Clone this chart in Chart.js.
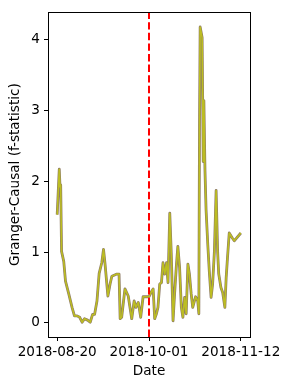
<!DOCTYPE html>
<html>
<head>
<meta charset="utf-8">
<script src="https://cdn.jsdelivr.net/npm/chart.js@4.4.1/dist/chart.umd.min.js"></script>
<style>
  html, body { margin: 0; padding: 0; background: #fff; }
  #wrap { width: 291px; height: 390px; }
</style>
</head>
<body>
<div id="wrap"><canvas id="c" width="291" height="390"></canvas></div>
<script>
// Days since 2018-08-20 for each observation
const dayOffsets = [0,0.95,1.3,1.6,2.0,3.0,3.8,5.3,6.8,7.9,9.1,10.3,11.4,12.5,13.9,15.1,16.2,17.1,18.2,19.2,20.4,21.2,21.9,23.2,24.2,25.0,27.3,28.3,28.8,29.5,31.0,32.5,34.1,35.2,36.0,37.1,38.2,39.3,42.0,43.1,43.9,44.6,45.4,46.1,46.9,47.7,48.4,49.2,50.0,50.7,51.5,52.2,53.0,53.7,54.5,55.2,56.0,56.8,57.5,58.3,59.0,59.8,60.5,61.3,62.0,63.3,64.3,64.8,65.1,65.4,66.3,66.8,67.1,67.6,68.1,68.9,69.6,70.4,71.1,71.9,72.7,73.4,73.9,74.9,75.7,76.7,77.3,77.9,78.7,80.1,81.0,84.0];
// Granger-causal f-statistic values
const fStat = [1.53,2.17,1.92,1.95,1.01,0.87,0.59,0.41,0.22,0.10,0.10,0.08,0.01,0.06,0.04,0.01,0.12,0.12,0.31,0.70,0.85,1.04,0.83,0.38,0.55,0.66,0.69,0.69,0.06,0.08,0.48,0.38,0.06,0.31,0.22,0.29,0.08,0.37,0.37,0.44,0.48,0.06,0.13,0.22,0.55,0.57,0.85,0.69,0.85,0.57,1.55,0.97,0.03,0.41,0.80,1.08,0.78,0.22,0.08,0.36,0.13,0.83,0.69,0.41,0.22,0.37,0.31,0.13,2.77,4.18,4.03,2.28,3.14,2.16,1.60,1.10,0.72,0.36,0.55,1.00,1.87,1.00,0.69,0.50,0.43,0.22,0.64,0.92,1.27,1.20,1.16,1.27];
// Event date (2018-10-01) as days since 2018-08-20
const eventDay = 42;
// Tick positions and labels
const xTickDays = [0, 42, 84];
const xTickLabels = ['2018-08-20', '2018-10-01', '2018-11-12'];
const yTicks = [0, 1, 2, 3, 4];

// Axis limits with matplotlib-like 5% margins
const xSpan = Math.max(...dayOffsets) - Math.min(...dayOffsets);
const xMin = Math.min(...dayOffsets) - 0.05 * xSpan;
const xMax = Math.max(...dayOffsets) + 0.05 * xSpan;
const ySpan = Math.max(...fStat) - Math.min(...fStat);
const yMin = Math.min(...fStat) - 0.05 * ySpan;
const yMax = Math.max(...fStat) + 0.05 * ySpan;

const points = dayOffsets.map((d, i) => ({ x: d, y: fStat[i] }));
const eventLine = [{ x: eventDay, y: yMin }, { x: eventDay, y: yMax }];

Chart.defaults.color = '#000';
Chart.defaults.font.family = "'DejaVu Sans', sans-serif";
Chart.defaults.font.size = 13.6;

const framePlugin = {
  id: 'frame',
  afterDraw(chart) {
    const { ctx, chartArea: a } = chart;
    ctx.save();
    ctx.strokeStyle = '#000';
    ctx.lineWidth = 1;
    ctx.strokeRect(Math.round(a.left) + 0.5, Math.round(a.top) + 0.5,
                   Math.round(a.right - a.left), Math.round(a.bottom - a.top));
    ctx.restore();
  }
};

new Chart(document.getElementById('c'), {
  type: 'line',
  data: {
    datasets: [
      { data: eventLine, borderColor: '#ff0000', borderWidth: 2, borderDash: [7.4, 3.2],
        pointRadius: 0, order: 0, borderCapStyle: 'butt' },
      { data: points, borderColor: '#bcbd22', borderWidth: 1.6, pointRadius: 0,
        tension: 0, order: 1, borderJoinStyle: 'round' },
      { data: points, borderColor: '#8e7b66', borderWidth: 2.8, pointRadius: 0,
        tension: 0, order: 2, borderJoinStyle: 'round' }
    ]
  },
  options: {
    responsive: false,
    animation: false,
    devicePixelRatio: 1,
    layout: { padding: { left: 0, right: 41, top: 10, bottom: 0 } },
    plugins: { legend: { display: false }, tooltip: { enabled: false } },
    scales: {
      x: {
        type: 'linear',
        min: xMin, max: xMax,
        afterBuildTicks: (s) => { s.ticks = xTickDays.map(v => ({ value: v })); },
        afterFit: (s) => { s.height = 53; },
        ticks: {
          autoSkip: false, maxRotation: 0, padding: 3,
          callback: (v) => { const i = xTickDays.indexOf(v); return i >= 0 ? xTickLabels[i] : ''; }
        },
        grid: { display: true, drawOnChartArea: false, drawTicks: true, tickLength: 4, color: '#000', lineWidth: 1 },
        border: { display: true, color: '#000', width: 1 },
        title: { display: true, text: 'Date', padding: { top: 0, bottom: 10 } }
      },
      y: {
        type: 'linear',
        min: yMin, max: yMax,
        afterBuildTicks: (s) => { s.ticks = yTicks.map(v => ({ value: v })); },
        afterFit: (s) => { s.width = 48; },
        ticks: { padding: 4, callback: (v) => String(v) },
        grid: { display: true, drawOnChartArea: false, drawTicks: true, tickLength: 4, color: '#000', lineWidth: 1 },
        border: { display: true, color: '#000', width: 1 },
        title: { display: true, text: 'Granger-Causal (f-statistic)', padding: { top: 7, bottom: 0 } }
      }
    }
  },
  plugins: [framePlugin]
});
</script>
</body>
</html>
